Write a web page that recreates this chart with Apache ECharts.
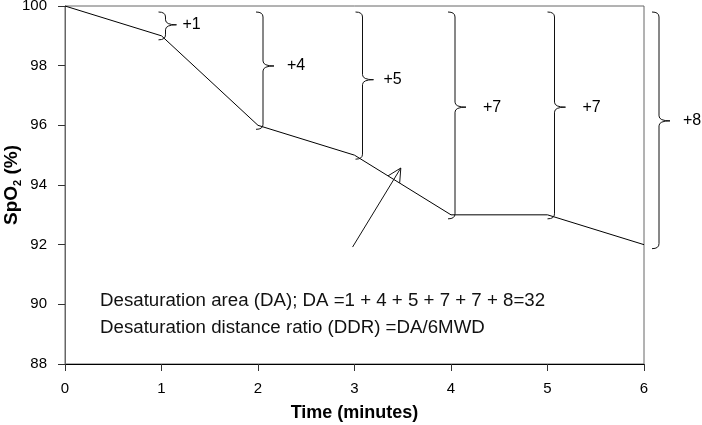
<!DOCTYPE html>
<html>
<head>
<meta charset="utf-8">
<script src="https://cdn.jsdelivr.net/npm/echarts@6/dist/echarts.min.js"></script>
<style>html,body{margin:0;padding:0;background:#fff}#c{width:702px;height:425px}</style>
</head>
<body>
<div id="c"></div>
<script>
// ---- data ----
const minutes = [0, 1, 2, 3, 4, 5, 6];
const spo2 = [100, 99, 96, 95, 93, 93, 92];
const braceMinutes = [1, 2, 3, 4, 5, 6];
const braceLabels = ['+1', '+4', '+5', '+7', '+7', '+8'];
const yTicks = [88, 90, 92, 94, 96, 98, 100];
const xTicks = [0, 1, 2, 3, 4, 5, 6];
const arrowTail = [2.98, 91.92];
const arrowTip = [3.48, 94.57];
const noteLines = [
  'Desaturation area (DA); DA =1 + 4 + 5 + 7 + 7 + 8=32',
  'Desaturation distance ratio (DDR) =DA/6MWD'
];

// ---- styles ----
const braceOffsets = [4, 5, 8, 4, 7, 15];
const labelOffsets = [17, 24, 21, 28, 28, 24];
const FONT = '"Liberation Sans", Arial, sans-serif';

const chart = echarts.init(document.getElementById('c'), null, {renderer: 'canvas'});

function bracePath(x, top, tip, bot) {
  const w = 7, r = 5, t = 11;
  return 'M' + (x - w) + ',' + top +
    ' Q' + x + ',' + top + ' ' + x + ',' + (top + r) +
    ' L' + x + ',' + (tip - r) +
    ' Q' + x + ',' + tip + ' ' + (x + t) + ',' + tip +
    ' Q' + x + ',' + tip + ' ' + x + ',' + (tip + r) +
    ' L' + x + ',' + (bot - r) +
    ' Q' + x + ',' + bot + ' ' + (x - w) + ',' + bot;
}

const braceData = braceMinutes.map((m, i) => [m, spo2[minutes.indexOf(m)], i]);

chart.setOption({
  animation: false,
  grid: {left: 65, right: 58, top: 6, bottom: 61, outerBoundsMode: 'none', containLabel: false,
    show: true, borderColor: '#666', borderWidth: 1, backgroundColor: 'transparent'},
  xAxis: {
    type: 'value', min: xTicks[0], max: xTicks[xTicks.length - 1], interval: 1,
    name: 'Time (minutes)', nameLocation: 'middle', nameGap: 40, nameMoveOverlap: false,
    nameTextStyle: {fontFamily: FONT, fontSize: 18, fontWeight: 'bold', color: '#000'},
    axisLine: {show: true, lineStyle: {color: '#000', width: 1}},
    axisTick: {show: true, length: 7, lineStyle: {color: '#333'}},
    axisLabel: {fontFamily: FONT, fontSize: 15, color: '#000', margin: 17},
    splitLine: {show: false}
  },
  yAxis: {
    type: 'value', min: yTicks[0], max: yTicks[yTicks.length - 1], interval: 2,
    name: '{a|SpO}{b|2}{a| (%)}', nameLocation: 'middle', nameGap: 42, nameRotate: 90, nameMoveOverlap: false,
    nameTextStyle: {
      rich: {
        a: {fontFamily: FONT, fontSize: 19, fontWeight: 'bold', color: '#000', lineHeight: 22},
        b: {fontFamily: FONT, fontSize: 11, fontWeight: 'bold', color: '#000', verticalAlign: 'bottom', lineHeight: 22}
      }
    },
    axisLine: {show: true, lineStyle: {color: '#666', width: 1}},
    axisTick: {show: true, length: 7, lineStyle: {color: '#333'}},
    axisLabel: {fontFamily: FONT, fontSize: 15, color: '#000', margin: 18},
    splitLine: {show: false}
  },
  series: [
    {
      type: 'line', data: minutes.map((m, i) => [m, spo2[i]]),
      symbol: 'none', lineStyle: {color: '#000', width: 1}, z: 3
    },
    {
      type: 'custom', data: braceData, z: 4,
      renderItem: function (params, api) {
        const m = api.value(0), v = api.value(1), i = api.value(2);
        const pTop = api.coord([m, yTicks[yTicks.length - 1]]);
        const pBot = api.coord([m, v]);
        const x = pBot[0] + braceOffsets[i];
        const top = pTop[1] + 6;
        const bot = pBot[1] + 4;
        const tip = top + (bot - top) * 0.46;
        return {
          type: 'group',
          children: [
            {type: 'path', shape: {pathData: bracePath(x, top, tip, bot)},
              style: {fill: null, stroke: '#111', lineWidth: 1}},
            {type: 'text', x: x + labelOffsets[i], y: tip,
              style: {text: braceLabels[i], fontFamily: FONT, fontSize: 16, fill: '#000',
                textAlign: 'left', textVerticalAlign: 'middle', verticalAlign: 'middle'}}
          ]
        };
      }
    },
    {
      type: 'custom', data: [[arrowTail[0], arrowTail[1], arrowTip[0], arrowTip[1]]], z: 5,
      renderItem: function (params, api) {
        const a = api.coord([api.value(0), api.value(1)]);
        const b = api.coord([api.value(2), api.value(3)]);
        const ang = Math.atan2(a[1] - b[1], a[0] - b[0]);
        const L = 15, d = 27 * Math.PI / 180;
        const w1 = [b[0] + L * Math.cos(ang + d), b[1] + L * Math.sin(ang + d)];
        const w2 = [b[0] + L * Math.cos(ang - d), b[1] + L * Math.sin(ang - d)];
        return {
          type: 'group',
          children: [
            {type: 'line', shape: {x1: a[0], y1: a[1], x2: b[0], y2: b[1]}, style: {stroke: '#111', lineWidth: 1}},
            {type: 'polyline', shape: {points: [w1, b, w2]}, style: {stroke: '#111', lineWidth: 1, fill: null}}
          ]
        };
      }
    }
  ],
  graphic: noteLines.map((t, i) => ({
    type: 'text', left: 100, top: 291 + i * 27,
    style: {text: t, fontFamily: FONT, fontSize: 18.7, fill: '#111'}
  }))
});
</script>
</body>
</html>
